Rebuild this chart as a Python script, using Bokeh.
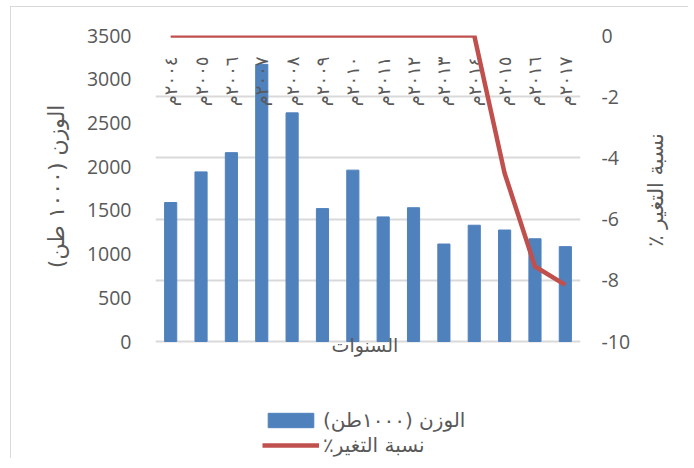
import math
from bokeh.plotting import figure
from bokeh.models import (FactorRange, Range1d, LinearAxis, FixedTicker, Grid,
                          ColumnDataSource, Legend, LegendItem, Label)
from bokeh.core.properties import value
from bokeh.embed import file_html
from bokeh.resources import INLINE

RLM = "\u200f"

years = ["2004", "2005", "2006", "2007", "2008", "2009", "2010",
         "2011", "2012", "2013", "2014", "2015", "2016", "2017"]
year_labels = ["٢٠٠٤م", "٢٠٠٥م", "٢٠٠٦م", "٢٠٠٧م", "٢٠٠٨م", "٢٠٠٩م", "٢٠١٠م",
               "٢٠١١م", "٢٠١٢م", "٢٠١٣م", "٢٠١٤م", "٢٠١٥م", "٢٠١٦م", "٢٠١٧م"]
weight = [1590, 1940, 2160, 3170, 2615, 1520, 1960,
          1425, 1530, 1115, 1330, 1275, 1175, 1085]
change_pct = [0, 0, 0, 0, 0, 0, 0, 0, 0, 0, 0, -4.5, -7.55, -8.15]

left_ticks = [0, 500, 1000, 1500, 2000, 2500, 3000, 3500]
right_ticks = [-10, -8, -6, -4, -2, 0]
right_tick_labels = ["-10", "-8", "-6", "-4", "-2", "0"]

weight_name = "الوزن (١٠٠٠طن)"
pct_name = "نسبة التغير٪"
left_title = "الوزن (١٠٠٠ طن)"
right_title = "نسبة التغير ٪"
x_title = "السنوات"

GRAY = "#595959"
GRID = "#d9d9d9"
BLUE = "#4f81bd"
RED = "#c0504d"
AR_FONT = "DejaVu Sans"
NUM_FONT = "Open Sans"

# layout geometry (canvas pixels)
W, H = 678, 452
F_LEFT, F_RIGHT, F_TOP = 144, 569, 28
AXIS_PX = 306            # height of the 0..3500 / -10..0 span
EXTRA = H - F_TOP - AXIS_PX   # frame continues below the value axes (legend area)
w_lo = -3500 * EXTRA / AXIS_PX
p_lo = -10 - 10 * EXTRA / AXIS_PX

src = ColumnDataSource(dict(year=years, weight=weight, pct=change_pct,
                            lab=year_labels, ly=[-1.5] * len(years)))

p = figure(x_range=FactorRange(*years), y_range=Range1d(w_lo, 3500),
           width=W, height=H, output_backend="svg", toolbar_location=None,
           x_axis_location=None,
           min_border_left=F_LEFT, min_border_right=W - F_RIGHT, min_border_top=F_TOP,
           min_border_bottom=0)
p.extra_y_ranges = {"pct": Range1d(p_lo, 0)}
p.outline_line_color = None
p.xgrid.visible = False
p.ygrid.visible = False
p.styles = {"border-top": "1px solid #d9d9d9", "border-left": "1px solid #d9d9d9",
            "margin-left": "10px", "margin-top": "6px"}

def style_value_axis(ax, standoff):
    ax.axis_line_color = None
    ax.major_tick_line_color = None
    ax.minor_tick_line_color = None
    ax.major_tick_out = 0
    ax.major_tick_in = 0
    ax.major_label_standoff = standoff
    ax.major_label_text_font = NUM_FONT
    ax.major_label_text_font_size = "19.5px"
    ax.major_label_text_color = GRAY

def style_title_axis(ax, standoff, size):
    ax.axis_line_color = None
    ax.major_tick_line_color = None
    ax.minor_tick_line_color = None
    ax.major_tick_out = 0
    ax.major_tick_in = 0
    ax.major_label_standoff = standoff
    ax.major_label_text_font = AR_FONT
    ax.major_label_text_font_size = size
    ax.major_label_text_color = GRAY
    ax.major_label_orientation = math.pi / 2

# left value axis
ya = p.yaxis[0]
ya.ticker = FixedTicker(ticks=left_ticks)
style_value_axis(ya, 24)

# left title (outer axis carrying a single rotated label)
LT_POS = 2710
lt = LinearAxis(ticker=FixedTicker(ticks=[LT_POS]))
lt.major_label_overrides = {float(LT_POS): RLM + left_title + RLM}
style_title_axis(lt, 27, "22px")
p.add_layout(lt, "left")

# right value axis
ra = LinearAxis(y_range_name="pct", ticker=FixedTicker(ticks=right_ticks))
ra.major_label_overrides = {float(t): s for t, s in zip(right_ticks, right_tick_labels)}
style_value_axis(ra, 21)
p.add_layout(ra, "right")

# right title
RT_POS = -6.9
rt = LinearAxis(y_range_name="pct", ticker=FixedTicker(ticks=[RT_POS]))
rt.major_label_overrides = {RT_POS: RLM + right_title + RLM}
style_title_axis(rt, 23, "21px")
p.add_layout(rt, "right")

grid = Grid(dimension=1, ticker=FixedTicker(ticks=right_ticks), y_range_name="pct",
            grid_line_color=GRID, grid_line_width=2)
p.add_layout(grid)

bars = p.vbar(x="year", top="weight", width=0.4, source=src,
              fill_color=BLUE, line_color=BLUE)
p.text(x="year", y="ly", text="lab", source=src, y_range_name="pct",
       angle=math.pi / 2, text_align="center", text_baseline="middle",
       text_font=value(AR_FONT), text_font_size="18px", text_color=GRAY)
line = p.line(x="year", y="pct", source=src, y_range_name="pct",
              line_color=RED, line_width=4.5, line_join="round")

xl = Label(x=6.9, y=-40, text=x_title, text_align="center", text_baseline="middle",
           text_font=AR_FONT, text_font_size="19px", text_color=GRAY)
p.add_layout(xl)

legend = Legend(items=[LegendItem(label=RLM + weight_name + RLM, renderers=[bars]),
                       LegendItem(label=RLM + pct_name + RLM, renderers=[line])],
                location=(107, 2), orientation="vertical",
                glyph_width=57, glyph_height=18, label_standoff=4, spacing=1,
                padding=0, margin=0, border_line_color=None, background_fill_alpha=0,
                label_text_font=AR_FONT, label_text_font_size="20px",
                label_text_color=GRAY)
p.add_layout(legend)

open("out.html", "w").write(file_html(p, INLINE))
